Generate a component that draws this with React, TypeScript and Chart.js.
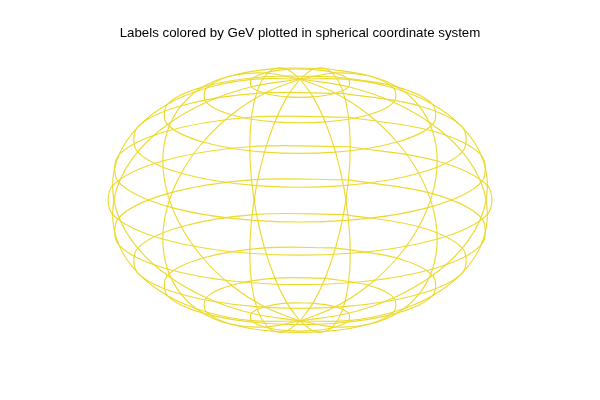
import React, { useEffect, useRef } from "react";
import { Chart, registerables } from "chart.js";

Chart.register(...registerables);

// Sphere grid (degrees): 15° latitude rings, 30° meridians
const latitudes = [-90, -75, -60, -45, -30, -15, 0, 15, 30, 45, 60, 75, 90];
const longitudes = [-180, -150, -120, -90, -60, -30, 0, 30, 60, 90, 120, 150, 180];
// Viewing angles of the 3-D plot
const viewElevation = 24.5;
const viewAzimuth = 15;

const titleText = "Labels colored by GeV plotted in spherical coordinate system";
const lineColor = "rgb(236, 218, 48)";

const rad = (d: number) => (d * Math.PI) / 180;

function project(lat: number, lon: number) {
  const p = rad(lon - viewAzimuth);
  const t = rad(lat);
  const e = rad(viewElevation);
  return {
    x: Math.cos(t) * Math.sin(p),
    y: Math.sin(t) * Math.cos(e) - Math.cos(t) * Math.cos(p) * Math.sin(e),
  };
}

function buildDatasets() {
  const sets: any[] = [];
  latitudes
    .filter((lat) => Math.abs(lat) < 90)
    .forEach((lat) => {
      sets.push({
        label: `lat ${lat}`,
        data: longitudes.map((lon) => project(lat, lon)),
      });
    });
  longitudes.slice(0, -1).forEach((lon) => {
    sets.push({
      label: `lon ${lon}`,
      data: latitudes.map((lat) => project(lat, lon)),
    });
  });
  return sets.map((s) => ({
    ...s,
    showLine: true,
    borderColor: lineColor,
    backgroundColor: lineColor,
    borderWidth: 1.15,
    pointRadius: 0,
    pointHoverRadius: 0,
    tension: 0.35,
    fill: false,
  }));
}

export default function App() {
  const ref = useRef<HTMLCanvasElement | null>(null);

  useEffect(() => {
    if (!ref.current) return;
    const rx = 194;
    const ry = 133;
    const fontSize = 13.3;
    const titleBlock = 25 + fontSize * 1.2;
    const halfH = 200 - titleBlock;
    const chart = new Chart(ref.current, {
      type: "scatter",
      data: { datasets: buildDatasets() },
      options: {
        responsive: false,
        animation: false,
        layout: { padding: { top: 0, bottom: titleBlock, left: 0, right: 0 } },
        plugins: {
          legend: { display: false },
          tooltip: { enabled: false },
          title: {
            display: true,
            text: titleText,
            color: "#000",
            font: { family: "'Liberation Sans', Arial, sans-serif", size: fontSize, weight: "normal", lineHeight: 1.2 },
            padding: { top: 25, bottom: 0 },
          },
        },
        scales: {
          x: { type: "linear", display: false, min: -300 / rx, max: 300 / rx },
          y: { type: "linear", display: false, min: -halfH / ry, max: halfH / ry },
        },
      },
    });
    return () => chart.destroy();
  }, []);

  return (
    <div style={{ position: "fixed", left: 0, top: 0, width: 600, height: 400, background: "#fff" }}>
      <canvas ref={ref} width={600} height={400} />
    </div>
  );
}
